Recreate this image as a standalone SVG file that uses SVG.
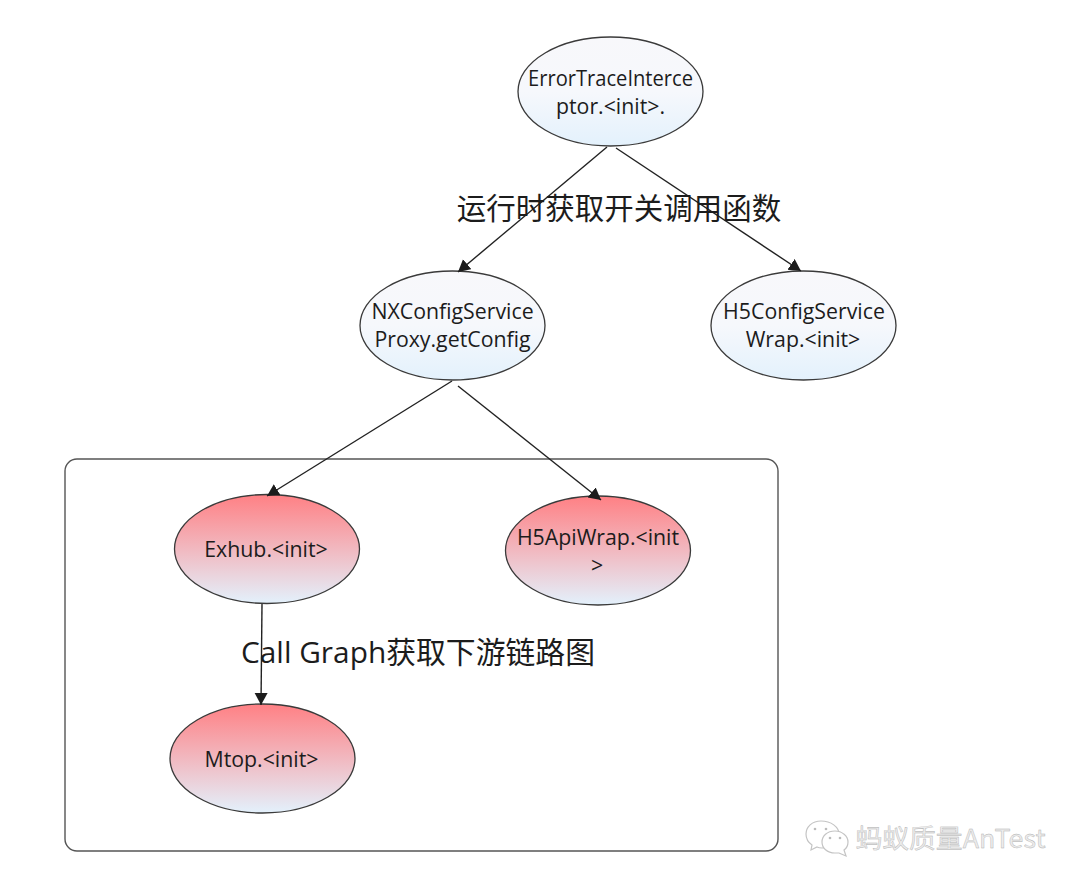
<svg xmlns="http://www.w3.org/2000/svg" width="1080" height="886" viewBox="0 0 1080 886">
<style>
text{font-family:"Open Sans","Noto Sans CJK SC",sans-serif;fill:#1c1c1c;text-anchor:middle}
.n{font-size:21.300px}
.l{font-size:29.500px}
.k{font-size:30px}
.e{stroke:#3a3a3a;stroke-width:1.3}
.c{stroke:#222;stroke-width:1.4;fill:none;marker-end:url(#a)}
.b{fill:url(#blue)}
.r{fill:url(#red)}
.w{fill:#fff;stroke:#c4c4c4;stroke-width:1.200}
.d{fill:#bbb}
</style>
<defs>
<linearGradient id="blue" x1="0" y1="0" x2="0" y2="1"><stop offset="0" stop-color="#f8f8fb"/><stop offset="0.500" stop-color="#f6f8fc"/><stop offset="1" stop-color="#e3f1fc"/></linearGradient>
<linearGradient id="red" x1="0" y1="0" x2="0" y2="1"><stop offset="0" stop-color="#ff8084"/><stop offset="1" stop-color="#e3f1fc"/></linearGradient>
<marker id="a" markerUnits="userSpaceOnUse" markerWidth="14" markerHeight="14" refX="12" refY="6.500" orient="auto"><path d="M0 0L12 6.500L0 13Z" fill="#1c1c1c"/></marker>
</defs>
<rect width="1080" height="886" fill="#fff"/>
<rect id="frame" x="65" y="459" width="713" height="392" rx="12" fill="none" stroke="#555" stroke-width="1.4"/>
<g id="n1"><ellipse class="e b" cx="610.500" cy="91.500" rx="92.500" ry="54.500"/><text class="n" x="610.500" y="86" textLength="165" lengthAdjust="spacingAndGlyphs">ErrorTraceInterce</text><text class="n" x="610.500" y="114">ptor.&lt;init&gt;.</text></g>
<g id="n2"><ellipse class="e b" cx="452.500" cy="325.500" rx="92.500" ry="54.500"/><text class="n" x="452.500" y="319">NXConfigService</text><text class="n" x="452.500" y="347">Proxy.getConfig</text></g>
<g id="n3"><ellipse class="e b" cx="803.500" cy="325.500" rx="92.500" ry="54.500"/><text class="n" x="804" y="319">H5ConfigService</text><text class="n" x="803" y="347">Wrap.&lt;init&gt;</text></g>
<g id="n4"><ellipse class="e r" cx="267" cy="549" rx="92.500" ry="54.500"/><text class="n" x="266" y="557">Exhub.&lt;init&gt;</text></g>
<g id="n5"><ellipse class="e r" cx="598" cy="550.500" rx="92.500" ry="54.500"/><text class="n" x="598" y="545">H5ApiWrap.&lt;init</text><text class="n" x="597" y="573">&gt;</text></g>
<g id="n6"><ellipse class="e r" cx="262.500" cy="758.500" rx="92.500" ry="54.500"/><text class="n" x="261.500" y="767">Mtop.&lt;init&gt;</text></g>
<g id="connectors">
<line class="c" x1="607" y1="147" x2="458" y2="272"/>
<line class="c" x1="616" y1="148" x2="801" y2="271"/>
<line class="c" x1="452" y1="381" x2="267" y2="496"/>
<line class="c" x1="458" y1="386" x2="601" y2="500"/>
<line class="c" x1="262" y1="604" x2="261" y2="705"/>
</g>
<text class="l" x="619" y="219">运行时获取开关调用函数</text>
<text class="k" x="418" y="663" textLength="354" lengthAdjust="spacingAndGlyphs">Call Graph获取下游链路图</text>
<g id="watermark">
<path class="w" d="M821 821c-9 0-15 6-15 13 0 5 3 9 6 11l-1 5 6-3c2 1 3 1 5 1 9 0 17-6 17-14 0-7-8-13-18-13z"/>
<path class="w" d="M835 831c-8 0-13 5-13 11 0 6 5 11 13 11 2 0 3 0 4 0l7 3-2-6c3-2 4-5 4-8 0-6-6-11-13-11z"/>
<circle class="d" cx="815" cy="829" r="1.300"/><circle class="d" cx="826" cy="829" r="1.300"/>
<circle class="d" cx="830" cy="838" r="1.300"/><circle class="d" cx="840" cy="838" r="1.300"/>
</g>
<text x="950.500" y="848" textLength="190" lengthAdjust="spacingAndGlyphs" style="font-size:26px;fill:#ececec;stroke:#b0b0b0;stroke-width:.4;font-family:'Noto Sans CJK SC',sans-serif">蚂蚁质量AnTest</text>
</svg>
